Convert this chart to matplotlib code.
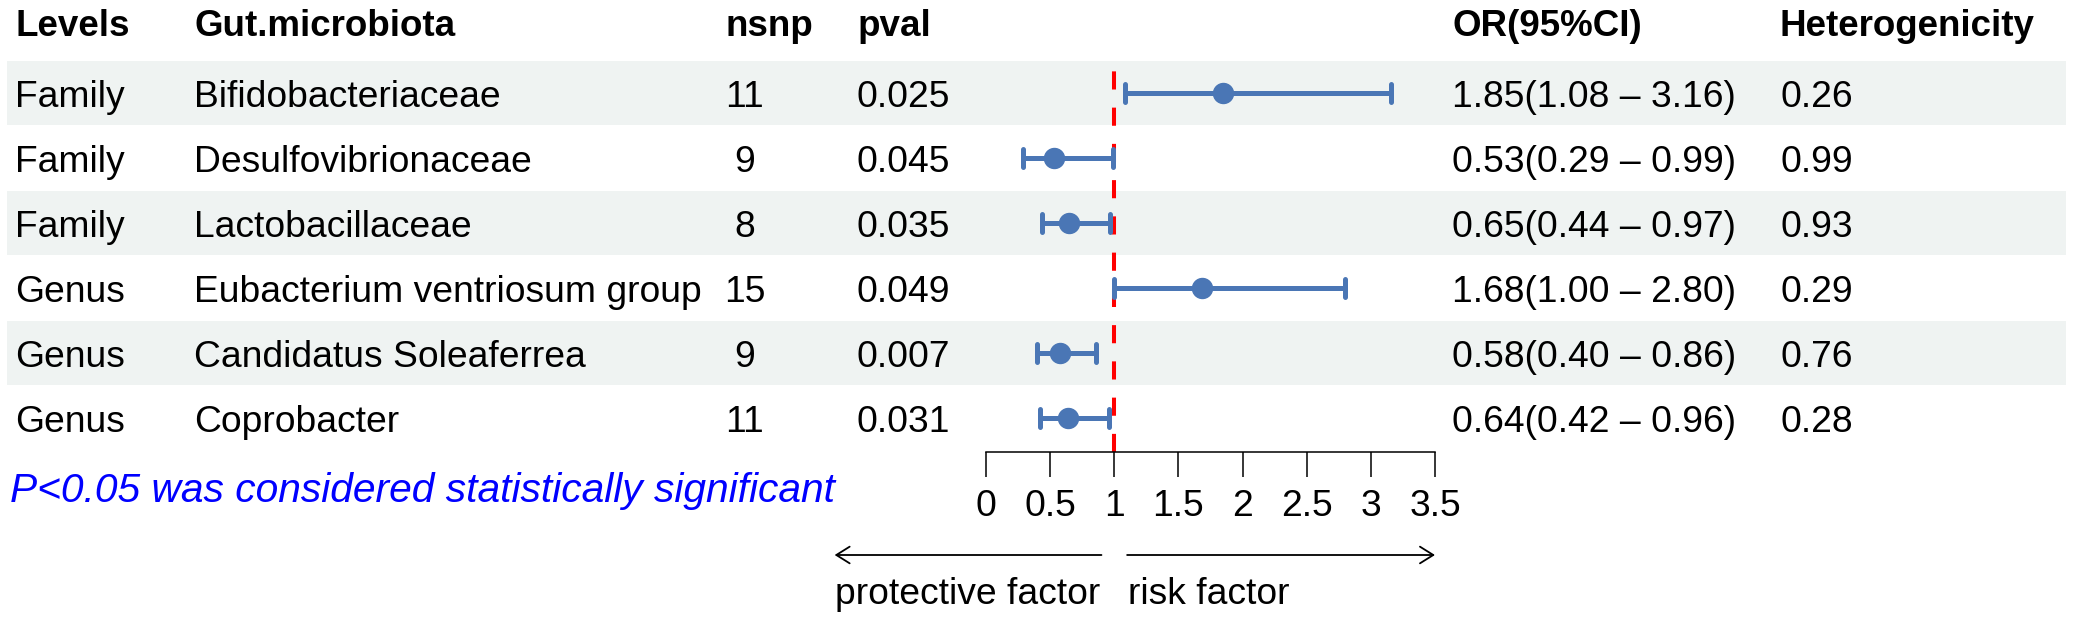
import matplotlib
matplotlib.use("Agg")
import matplotlib.pyplot as plt
from matplotlib.patches import Rectangle
from matplotlib.transforms import blended_transform_factory

plt.rcParams['font.family'] = ['Liberation Sans', 'DejaVu Sans']

levels = ["Family", "Family", "Family", "Genus", "Genus", "Genus"]
taxa = ["Bifidobacteriaceae", "Desulfovibrionaceae", "Lactobacillaceae",
        "Eubacterium ventriosum group", "Candidatus Soleaferrea", "Coprobacter"]
nsnp = [11, 9, 8, 15, 9, 11]
pval = ["0.025", "0.045", "0.035", "0.049", "0.007", "0.031"]
odds = [1.85, 0.53, 0.65, 1.68, 0.58, 0.64]
ci_low = [1.08, 0.29, 0.44, 1.00, 0.40, 0.42]
ci_high = [3.16, 0.99, 0.97, 2.80, 0.86, 0.96]
heterog = ["0.26", "0.99", "0.93", "0.29", "0.76", "0.28"]
xticks = [0, 0.5, 1, 1.5, 2, 2.5, 3, 3.5]

W, H = 2073, 620
fs = 26.8
blue = '#4A76B5'
band = '#EFF3F2'

fig = plt.figure(figsize=(W / 100, H / 100), dpi=100)

# background axes in pixel coordinates for the table part
bg = fig.add_axes([0, 0, 1, 1])
bg.set_xlim(0, W)
bg.set_ylim(H, 0)
bg.axis('off')

row0, step = 93, 65
n = len(taxa)

for i in range(n):
    yc = row0 + step * i
    if i % 2 == 0:
        bg.add_patch(Rectangle((7, yc - 32), 2059, 64, facecolor=band,
                               edgecolor='none', zorder=0))
    yb = yc + 14
    bg.text(15, yb, levels[i], fontsize=fs, va='baseline')
    bg.text(194, yb, taxa[i], fontsize=fs, va='baseline')
    bg.text(745, yb, str(nsnp[i]), fontsize=fs, va='baseline', ha='center')
    bg.text(857, yb, pval[i], fontsize=fs, va='baseline')
    bg.text(1452, yb, f"{odds[i]:.2f}({ci_low[i]:.2f} \u2013 {ci_high[i]:.2f})",
            fontsize=fs, va='baseline')
    bg.text(1780, yb, heterog[i], fontsize=fs, va='baseline')

# headers
hy = 36
for x, lab in [(15, "Levels"), (194, "Gut.microbiota"), (725, "nsnp"),
               (858, "pval"), (1452, "OR(95%CI)"), (1780, "Heterogenicity")]:
    bg.text(x, hy, lab, fontsize=26.5, fontweight='bold', va='baseline')

bg.text(10, 502, "P<0.05 was considered statistically significant",
        fontsize=29.3, style='italic', color='blue', va='baseline')

# forest panel
x0, x1 = 986, 1435
ytop, ybot = 59, 452
ax = fig.add_axes([x0 / W, (H - ybot) / H, (x1 - x0) / W, (ybot - ytop) / H])
ax.set_xlim(0, 3.5)
ax.set_ylim((ybot - row0) / step, (ytop - row0) / step)
ax.patch.set_alpha(0)
for s in ['top', 'right', 'left']:
    ax.spines[s].set_visible(False)
ax.spines['bottom'].set_linewidth(1.1)
ax.set_yticks([])
ax.set_xticks(xticks)
ax.set_xticklabels([f"{t:g}" for t in xticks], fontsize=fs)
ax.tick_params(axis='x', direction='out', length=18, width=1.1, pad=9)

ax.axvline(1, color='red', lw=2.9, linestyle=(0, (4.5, 4.5)), zorder=1)

rows = list(range(n))
ax.hlines(rows, ci_low, ci_high, color=blue, lw=3.6, capstyle='round', zorder=3)
for lo, hi, r in zip(ci_low, ci_high, rows):
    ax.vlines([lo, hi], r - 0.14, r + 0.14, color=blue, lw=3.6,
              capstyle='round', zorder=3)
ax.plot(odds, rows, 'o', color=blue, markersize=14.4, zorder=4)

# direction arrows under the axis
ay = 555
mix = (ax.transData, bg.transData)
aprops = dict(arrowstyle='->,head_length=0.4,head_width=0.25', lw=1.3,
              color='black', mutation_scale=24, shrinkA=0, shrinkB=0)
ax.annotate('', xy=(-1.18, ay), xytext=(0.90, ay), xycoords=mix,
            textcoords=mix, arrowprops=aprops, annotation_clip=False)
ax.annotate('', xy=(3.5, ay), xytext=(1.10, ay), xycoords=mix,
            textcoords=mix, arrowprops=aprops, annotation_clip=False)
tr = blended_transform_factory(ax.transData, bg.transData)
ax.text(0.89, 604, "protective factor", transform=tr, fontsize=fs,
        ha='right', va='baseline', clip_on=False)
ax.text(1.11, 604, "risk factor", transform=tr, fontsize=fs,
        ha='left', va='baseline', clip_on=False)

fig.savefig("out.png", dpi=100)
